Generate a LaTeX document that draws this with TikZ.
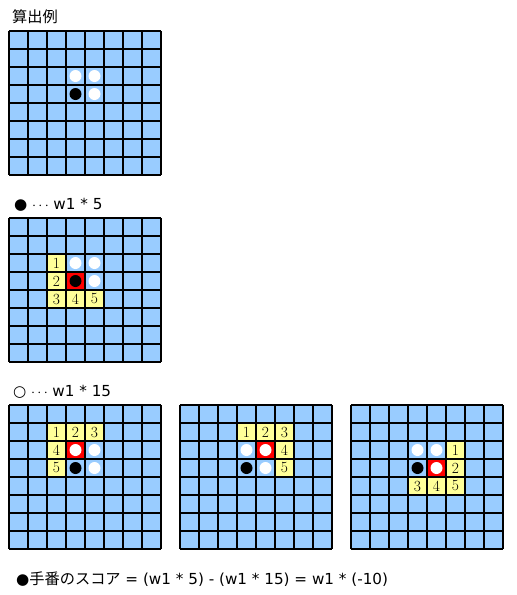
\documentclass[tikz,border=0pt]{standalone}
\usepackage{fontspec}
\usepackage{xcolor}
\usepackage{tikz}
\usetikzlibrary{shapes,arrows,positioning}

\newfontfamily\jpfont{Noto Sans CJK JP}
\newfontfamily\latfont{DejaVu Sans}

\definecolor{boardblue}{HTML}{99CCFF}
\definecolor{markyellow}{HTML}{FFFF99}
\definecolor{markred}{HTML}{FF0000}

\tikzset{
    gridline/.style={line width=1.1pt, draw=black},
    wstone/.style={fill=white},
    bstone/.style={fill=black},
    numcell/.style={fill=markyellow},
    hitcell/.style={fill=markred},
    numtext/.style={font=\fontsize{15.5}{15}\selectfont, inner sep=0pt},
    caption/.style={anchor=west, inner sep=0pt, font=\fontsize{15.2}{17}\selectfont}
}

\newcommand{\boardlines}{%
    \foreach \i in {0,...,8} {
        \draw[gridline] (\i,0) -- (\i,8);
        \draw[gridline] (0,\i) -- (8,\i);
    }}
\newcommand{\ellip}{\hspace{0.3em}$\cdot\hspace{-0.05em}\cdot\hspace{-0.05em}\cdot$\hspace{0.3em}}

\begin{document}
\begin{tikzpicture}[x=1pt, y=-1pt]
                \useasboundingbox (0,0) rectangle (517,595);

                % captions
                \node[caption] (title) at (12,17) {\jpfont 算出例};
                \node[caption] (blackrule) at (14,205) {\latfont ●\ellip w1 * 5};
                \node[caption] (whiterule) at (13,392) {\latfont ○\ellip w1 * 15};
                \node[caption] (score) at (16,579) {\latfont ●\jpfont 手番のスコア\latfont{} = (w1 * 5) - (w1 * 15) = w1 * (-10)};

                % board 1
                \begin{scope}[xshift=9pt, yshift=-31pt, x=19pt, y=-18pt]
                    \fill[boardblue] (0,0) rectangle (8,8);
                    \boardlines
                    \fill[wstone] (3.5,2.5) circle[radius=6pt];
                    \fill[wstone] (4.5,2.5) circle[radius=6pt];
                    \fill[bstone] (3.5,3.5) circle[radius=6pt];
                    \fill[wstone] (4.5,3.5) circle[radius=6pt];
                \end{scope}

                % board 2
                \begin{scope}[xshift=9pt, yshift=-218pt, x=19pt, y=-18pt]
                    \fill[boardblue] (0,0) rectangle (8,8);
                    \fill[numcell] (2,2) rectangle (3,3) node[numtext, pos=.5] (bb1) {1};
                    \fill[numcell] (2,3) rectangle (3,4) node[numtext, pos=.5] (bb2) {2};
                    \fill[numcell] (2,4) rectangle (3,5) node[numtext, pos=.5] (bb3) {3};
                    \fill[numcell] (3,4) rectangle (4,5) node[numtext, pos=.5] (bb4) {4};
                    \fill[numcell] (4,4) rectangle (5,5) node[numtext, pos=.5] (bb5) {5};
                    \fill[hitcell] (3,3) rectangle (4,4);
                    \boardlines
                    \fill[wstone] (3.5,2.5) circle[radius=6pt];
                    \fill[wstone] (4.5,2.5) circle[radius=6pt];
                    \fill[bstone] (3.5,3.5) circle[radius=6pt];
                    \fill[wstone] (4.5,3.5) circle[radius=6pt];
                \end{scope}

                % board 3
                \begin{scope}[xshift=9pt, yshift=-405pt, x=19pt, y=-18pt]
                    \fill[boardblue] (0,0) rectangle (8,8);
                    \fill[numcell] (2,1) rectangle (3,2) node[numtext, pos=.5] (wa1) {1};
                    \fill[numcell] (3,1) rectangle (4,2) node[numtext, pos=.5] (wa2) {2};
                    \fill[numcell] (4,1) rectangle (5,2) node[numtext, pos=.5] (wa3) {3};
                    \fill[numcell] (2,2) rectangle (3,3) node[numtext, pos=.5] (wa4) {4};
                    \fill[numcell] (2,3) rectangle (3,4) node[numtext, pos=.5] (wa5) {5};
                    \fill[hitcell] (3,2) rectangle (4,3);
                    \boardlines
                    \fill[wstone] (3.5,2.5) circle[radius=6pt];
                    \fill[wstone] (4.5,2.5) circle[radius=6pt];
                    \fill[bstone] (3.5,3.5) circle[radius=6pt];
                    \fill[wstone] (4.5,3.5) circle[radius=6pt];
                \end{scope}

                % board 4
                \begin{scope}[xshift=180pt, yshift=-405pt, x=19pt, y=-18pt]
                    \fill[boardblue] (0,0) rectangle (8,8);
                    \fill[numcell] (3,1) rectangle (4,2) node[numtext, pos=.5] (wb1) {1};
                    \fill[numcell] (4,1) rectangle (5,2) node[numtext, pos=.5] (wb2) {2};
                    \fill[numcell] (5,1) rectangle (6,2) node[numtext, pos=.5] (wb3) {3};
                    \fill[numcell] (5,2) rectangle (6,3) node[numtext, pos=.5] (wb4) {4};
                    \fill[numcell] (5,3) rectangle (6,4) node[numtext, pos=.5] (wb5) {5};
                    \fill[hitcell] (4,2) rectangle (5,3);
                    \boardlines
                    \fill[wstone] (3.5,2.5) circle[radius=6pt];
                    \fill[wstone] (4.5,2.5) circle[radius=6pt];
                    \fill[bstone] (3.5,3.5) circle[radius=6pt];
                    \fill[wstone] (4.5,3.5) circle[radius=6pt];
                \end{scope}

                % board 5
                \begin{scope}[xshift=351pt, yshift=-405pt, x=19pt, y=-18pt]
                    \fill[boardblue] (0,0) rectangle (8,8);
                    \fill[numcell] (5,2) rectangle (6,3) node[numtext, pos=.5] (wc1) {1};
                    \fill[numcell] (5,3) rectangle (6,4) node[numtext, pos=.5] (wc2) {2};
                    \fill[numcell] (3,4) rectangle (4,5) node[numtext, pos=.5] (wc3) {3};
                    \fill[numcell] (4,4) rectangle (5,5) node[numtext, pos=.5] (wc4) {4};
                    \fill[numcell] (5,4) rectangle (6,5) node[numtext, pos=.5] (wc5) {5};
                    \fill[hitcell] (4,3) rectangle (5,4);
                    \boardlines
                    \fill[wstone] (3.5,2.5) circle[radius=6pt];
                    \fill[wstone] (4.5,2.5) circle[radius=6pt];
                    \fill[bstone] (3.5,3.5) circle[radius=6pt];
                    \fill[wstone] (4.5,3.5) circle[radius=6pt];
                \end{scope}

            \end{tikzpicture}
\end{document}
